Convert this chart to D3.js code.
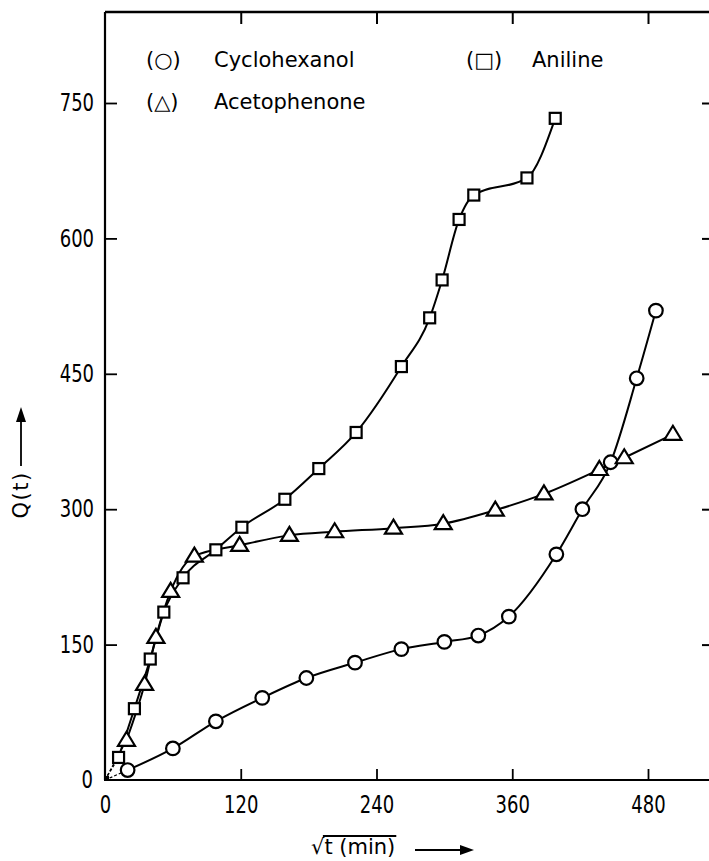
<!DOCTYPE html>
<html><head><meta charset="utf-8">
<script src="https://cdn.jsdelivr.net/npm/d3@7"></script>
<style>
html,body{margin:0;padding:0;background:#fff;}
svg{display:block;}
.tick text{font-family:"DejaVu Sans Condensed","DejaVu Sans",sans-serif;font-size:20px;fill:#000;}
.lbl{font-family:"DejaVu Sans",sans-serif;fill:#000;}
</style></head>
<body>
<svg id="c" width="709" height="861"></svg>
<script>
// data
const xTicks = [0, 120, 240, 360, 480];
const yTicks = [0, 150, 300, 450, 600, 750];

const cycloX = [20, 60, 98, 139, 178, 221, 262, 300, 330, 357, 399, 422, 447, 470, 487];
const cycloY = [11, 35, 65, 91, 113, 130, 145, 153, 160, 181, 250, 300, 352, 445, 520];

const anilX = [12, 26, 40, 52, 69, 98, 121, 159, 189, 222, 262, 287, 298, 313, 326, 373, 398];
const anilY = [25, 79, 134, 186, 224, 255, 280, 311, 345, 385, 458, 512, 554, 621, 648, 667, 733];

const acetoX = [19, 35, 45, 58, 79, 119, 163, 203, 255, 299, 345, 388, 437, 459, 502];
const acetoY = [44, 106, 158, 209, 248, 260, 271, 275, 279, 284, 299, 317, 344, 357, 383];

const svg = d3.select("#c");
const L = 105, R = 712, T = 12, B = 780;
const x = d3.scaleLinear().domain([0, 480]).range([L, 648]);
const y = d3.scaleLinear().domain([0, 750]).range([B, 103]);

// frame
const frame = svg.append("g").attr("stroke", "#000").attr("fill", "none");
frame.append("line").attr("x1", L).attr("x2", R).attr("y1", T).attr("y2", T).attr("stroke-width", 2.6);
frame.append("line").attr("x1", L).attr("x2", L).attr("y1", T).attr("y2", B).attr("stroke-width", 2.2);

// axes
const gx = svg.append("g").attr("transform", `translate(0,${B})`)
  .call(d3.axisBottom(x).tickValues(xTicks).tickSizeInner(-11).tickSizeOuter(0).tickPadding(13));
gx.select(".domain").attr("d", `M${L},0H${R}`).attr("stroke-width", 2.2);
gx.selectAll(".tick line").attr("stroke-width", 1.8);
gx.selectAll(".tick").filter(d => d === 0).select("line").remove();
gx.selectAll(".tick text").attr("transform", "scale(1,1.2)");

const gy = svg.append("g").attr("transform", `translate(${L},0)`)
  .call(d3.axisLeft(y).tickValues(yTicks).tickSizeInner(-12).tickSizeOuter(0).tickPadding(11));
gy.select(".domain").remove();
gy.selectAll(".tick line").attr("stroke-width", 1.8);
gy.selectAll(".tick").filter(d => d === 0).select("line").remove();
gy.selectAll(".tick").filter(d => d === 0).select("text").attr("x", -12);
gy.selectAll(".tick text").attr("transform", "scale(1,1.2)");

// top ticks
const gt = svg.append("g").attr("transform", `translate(0,${T})`)
  .call(d3.axisTop(x).tickValues(xTicks.slice(1)).tickSizeInner(-12).tickSizeOuter(0).tickFormat(""));
gt.select(".domain").remove();
gt.selectAll(".tick line").attr("stroke-width", 2);

// right ticks
const gr = svg.append("g").attr("transform", `translate(${R},0)`)
  .call(d3.axisRight(y).tickValues(yTicks.slice(1)).tickSizeInner(-10).tickSizeOuter(0).tickFormat(""));
gr.select(".domain").remove();
gr.selectAll(".tick line").attr("stroke-width", 2);

// series
function series(xs, ys) { return xs.map((v, i) => [v, ys[i]]); }
const cyclo = series(cycloX, cycloY);
const anil = series(anilX, anilY);
const aceto = series(acetoX, acetoY);

const line = d3.line().x(d => x(d[0])).y(d => y(d[1])).curve(d3.curveMonotoneX);
const lines = svg.append("g").attr("fill", "none").attr("stroke", "#000").attr("stroke-width", 2);
[cyclo, anil, aceto].forEach(s => {
  lines.append("path").attr("d", line(s));
  lines.append("line").attr("x1", x(0)).attr("y1", y(0)).attr("x2", x(s[0][0])).attr("y2", y(s[0][1]))
    .attr("stroke-dasharray", "3,2").attr("stroke-width", 1.3);
});
svg.append("rect").attr("x", L - 1).attr("y", B - 4).attr("width", 5).attr("height", 5).attr("fill", "#000");

const marks = svg.append("g").attr("fill", "#fff").attr("stroke", "#000").attr("stroke-width", 2.2);
marks.selectAll("circle").data(cyclo).join("circle")
  .attr("cx", d => x(d[0])).attr("cy", d => y(d[1])).attr("r", 6.8);
marks.selectAll("rect.sq").data(anil).join("rect").attr("class", "sq")
  .attr("x", d => x(d[0]) - 5.5).attr("y", d => y(d[1]) - 5.5).attr("width", 11).attr("height", 11);
marks.selectAll("path.tri").data(aceto).join("path").attr("class", "tri")
  .attr("d", d => { const cx = x(d[0]), cy = y(d[1]); return `M${cx},${cy - 8.5}L${cx + 8.5},${cy + 5.5}L${cx - 8.5},${cy + 5.5}Z`; });

// legend
const lg = svg.append("g").attr("class", "lbl").attr("font-size", 21);
lg.append("text").attr("x", 146).attr("y", 67).text("(○)");
lg.append("text").attr("x", 214).attr("y", 67).text("Cyclohexanol");
lg.append("text").attr("x", 466).attr("y", 67).text("(□)");
lg.append("text").attr("x", 532).attr("y", 67).text("Aniline");
lg.append("text").attr("x", 146).attr("y", 109).text("(△)");
lg.append("text").attr("x", 214).attr("y", 109).text("Acetophenone");

// x label
const xl = svg.append("g").attr("class", "lbl");
const xt = xl.append("text").attr("x", 311).attr("y", 854).attr("font-size", 21).text("√t (min)");
const n = xt.node();
const wRad = n.getSubStringLength(0, 1);
const wAll = n.getComputedTextLength();
xl.append("line").attr("x1", 311 + wRad - 1.5).attr("x2", 311 + wAll + 1).attr("y1", 836).attr("y2", 836)
  .attr("stroke", "#000").attr("stroke-width", 1.8);
xl.append("line").attr("x1", 415).attr("x2", 462).attr("y1", 850).attr("y2", 850).attr("stroke", "#000").attr("stroke-width", 1.8);
xl.append("path").attr("d", "M474,850L460,845L460,855Z").attr("fill", "#000");

// y label
const yl = svg.append("g").attr("class", "lbl");
yl.append("text").attr("transform", "translate(28,495) rotate(-90)").attr("text-anchor", "middle")
  .attr("font-size", 21).attr("letter-spacing", 1.5).text("Q(t)");
yl.append("line").attr("x1", 21).attr("x2", 21).attr("y1", 466).attr("y2", 420).attr("stroke", "#000").attr("stroke-width", 1.8);
yl.append("path").attr("d", "M21,407L16,422L26,422Z").attr("fill", "#000");
</script>
</body></html>
